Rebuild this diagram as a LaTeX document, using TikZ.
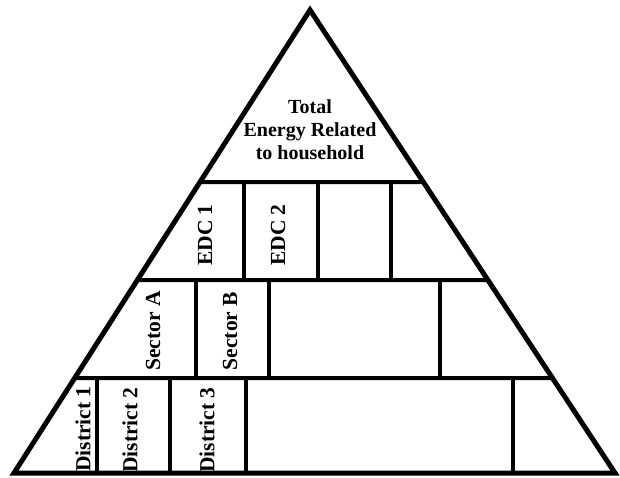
\documentclass[tikz,border=0pt]{standalone}
\usepackage{fontspec}
\setmainfont{Liberation Serif}
\usetikzlibrary{calc}
\tikzset{
    % Outline styles
    pyramidline/.style={
        draw=black,
        line width=5pt,
        line join=miter
    },
    tierline/.style={
        draw=black,
        line width=4pt
    },
    % Label styles
    toplabel/.style={
        align=center,
        inner sep=0pt,
        font=\fontsize{20}{23}\selectfont\bfseries
    },
    celllabel/.style={
        rotate=90,
        inner sep=0pt,
        font=\fontsize{21.5}{24}\selectfont\bfseries
    }
}

\begin{document}
\begin{tikzpicture}[x=1pt,y=-1pt]
    \useasboundingbox (0,0) rectangle (620,477);

    % Corners
    \coordinate (apex) at (310,10);
    \coordinate (bl) at (14,473);
    \coordinate (br) at (615,473);

    % Tier borders
    \coordinate (l1) at (intersection of apex--bl and 0,182--620,182);
    \coordinate (r1) at (intersection of apex--br and 0,182--620,182);
    \coordinate (l2) at (intersection of apex--bl and 0,280--620,280);
    \coordinate (r2) at (intersection of apex--br and 0,280--620,280);
    \coordinate (l3) at (intersection of apex--bl and 0,378--620,378);
    \coordinate (r3) at (intersection of apex--br and 0,378--620,378);
    \draw[tierline] (l1) -- (r1);
    \draw[tierline] (l2) -- (r2);
    \draw[tierline] (l3) -- (r3);

    % Cells
    \foreach \x in {244,318,391} \draw[tierline] (\x,182) -- (\x,280);
    \foreach \x in {196,269,440} \draw[tierline] (\x,280) -- (\x,378);
    \foreach \x in {97,170,246,513} \draw[tierline] (\x,378) -- (\x,473);

    % Outline
    \draw[pyramidline] (apex) -- (br) -- (bl) -- cycle;

    % Labels
    \node[toplabel] (total) at (310,130) {Total\\Energy Related\\to household};
    \node[celllabel] (edc1) at (205,235) {EDC 1};
    \node[celllabel] (edc2) at (278,235) {EDC 2};
    \node[celllabel] (secA) at (153,331) {Sector A};
    \node[celllabel] (secB) at (230,331) {Sector B};
    \node[celllabel] (dist1) at (83,429) {District 1};
    \node[celllabel] (dist2) at (130,430) {District 2};
    \node[celllabel] (dist3) at (207,430) {District 3};
\end{tikzpicture}
\end{document}
